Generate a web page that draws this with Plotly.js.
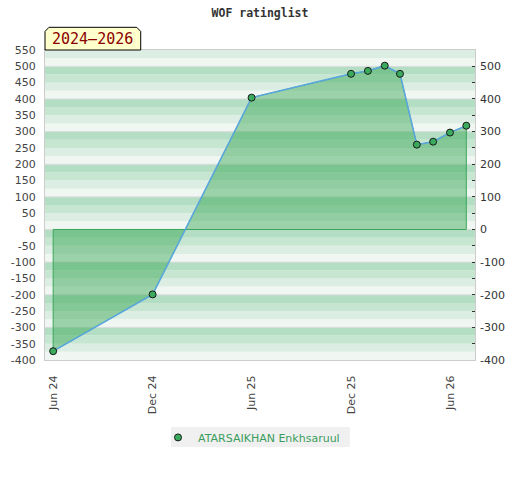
<!DOCTYPE html>
<html>
<head>
<meta charset="utf-8">
<script src="https://cdn.plot.ly/plotly-3.0.1.min.js"></script>
<style>html,body{margin:0;padding:0;background:#fff;}#chart{width:520px;height:480px;}</style>
</head>
<body>
<div id="chart"></div>
<script>
// ---- data ----
var dates = ['2024-06-01','2024-12-01','2025-06-01','2025-12-01','2026-01-01','2026-02-01','2026-03-01','2026-04-01','2026-05-01','2026-06-01','2026-07-01'];
var values = [-373, -199, 404, 477, 486, 502, 477, 260, 269, 297, 318];
var seriesName = 'ATARSAIKHAN Enkhsaruul';
var tickDates = ['2024-06-01','2024-12-01','2025-06-01','2025-12-01','2026-06-01'];
var tickLabels = ['Jun 24','Dec 24','Jun 25','Dec 25','Jun 26'];
var leftTicks = [-400,-350,-300,-250,-200,-150,-100,-50,0,50,100,150,200,250,300,350,400,450,500,550];
var rightTicks = [-400,-300,-200,-100,0,100,200,300,400,500];
var chartTitle = 'WOF ratinglist';
var periodLabel = '2024\u20132026';

// ---- closed polygon between series and zero ----
var polyX = [dates[0]].concat(dates, [dates[dates.length-1], dates[0]]);
var polyY = [0].concat(values, [0, 0]);

var traces = [
  {x: polyX, y: polyY, type: 'scatter', mode: 'lines', fill: 'toself',
   fillcolor: 'rgba(40,160,70,0.42)', line: {color: '#3ba55c', width: 1},
   showlegend: false, hoverinfo: 'skip'},
  {x: dates, y: values, type: 'scatter', mode: 'lines',
   line: {color: '#5ba6e2', width: 1.5}, showlegend: false},
  {x: dates, y: values, type: 'scatter', mode: 'markers', name: seriesName, yaxis: 'y2',
   marker: {color: '#3aaa5c', size: 7, line: {color: '#1a1a1a', width: 1}}}
];

// ---- background stripes (style only) ----
var shapes = [];
var stripeCols = {75: '#b3dec4', 50: '#c6e6d2', 25: '#dceee3', 0: '#f0f7f2'};
for (var k = -400; k < 550; k += 25) {
  var pos = ((k % 100) + 100) % 100;
  shapes.push({type: 'rect', xref: 'paper', yref: 'y', x0: 0, x1: 1, y0: k, y1: k + 25,
    fillcolor: stripeCols[pos], line: {width: 0}, layer: 'below'});
}
for (var g = -300; g <= 500; g += 100) {
  shapes.push({type: 'line', xref: 'paper', yref: 'y', x0: 0, x1: 1, y0: g, y1: g,
    line: {color: '#dcdcdc', width: 1}, layer: 'below'});
}
// label box with chamfered top corners
shapes.push({type: 'path', xref: 'paper', yref: 'paper',
  path: 'M 0 1 L 0 1.060 L 0.0093 1.0732 L 0.2133 1.0732 L 0.2226 1.060 L 0.2226 1 Z',
  fillcolor: '#ffffcc', line: {color: '#000000', width: 1}, layer: 'above'});
// legend background box
shapes.push({type: 'rect', xref: 'paper', yref: 'paper', x0: 0.293, x1: 0.709, y0: -0.281, y1: -0.216,
  fillcolor: '#f0f0f0', line: {width: 0}, layer: 'above'});

var layout = {
  width: 520, height: 480,
  margin: {l: 45, r: 45, t: 50, b: 120, pad: 0},
  paper_bgcolor: '#ffffff', plot_bgcolor: '#ffffff',
  font: {family: 'DejaVu Sans', size: 11, color: '#444444'},
  title: {text: chartTitle, x: 0.5, xanchor: 'center', y: 0.973, yanchor: 'middle',
    font: {family: 'DejaVu Sans Mono', size: 11.5, color: '#333333', weight: 'bold'}},
  xaxis: {type: 'date', range: ['2024-05-17', '2026-07-17'], tickmode: 'array',
    tickvals: tickDates, ticktext: tickLabels, tickangle: -90,
    ticks: 'outside', ticklen: 10, tickcolor: 'rgba(0,0,0,0)',
    showgrid: false, zeroline: false, showline: true, mirror: true, linecolor: '#cccccc',
    tickfont: {size: 11, color: '#444444'}, fixedrange: true},
  yaxis: {range: [-400, 550], tickmode: 'array', tickvals: leftTicks,
    ticktext: leftTicks.map(String), ticks: 'outside', ticklen: 6,
    tickcolor: 'rgba(0,0,0,0)', showgrid: false, zeroline: false,
    showline: true, mirror: true, linecolor: '#cccccc',
    tickfont: {size: 11, color: '#444444'}},
  yaxis2: {range: [-400, 550], overlaying: 'y', side: 'right', tickmode: 'array',
    tickvals: rightTicks, ticktext: rightTicks.map(String),
    ticks: 'inside', ticklen: 3, tickcolor: '#333333', ticklabelstandoff: 4,
    minor: {dtick: 50, ticks: 'inside', ticklen: 3, tickcolor: '#333333'},
    showgrid: false, zeroline: false, showline: false,
    tickfont: {size: 11, color: '#333333'}},
  showlegend: true,
  legend: {orientation: 'h', x: 0.2628, xanchor: 'left', y: -0.203, yanchor: 'top',
    bgcolor: 'rgba(0,0,0,0)', font: {size: 11, color: '#3a9d5d'}},
  shapes: shapes,
  annotations: [{xref: 'paper', yref: 'paper', x: 0.1113, y: 1.036, xanchor: 'center', yanchor: 'middle',
    text: periodLabel, showarrow: false,
    font: {family: 'DejaVu Sans Mono', size: 15, color: '#8b0000'}}]
};

Plotly.newPlot('chart', traces, layout, {displayModeBar: false, staticPlot: true});
</script>
</body>
</html>
